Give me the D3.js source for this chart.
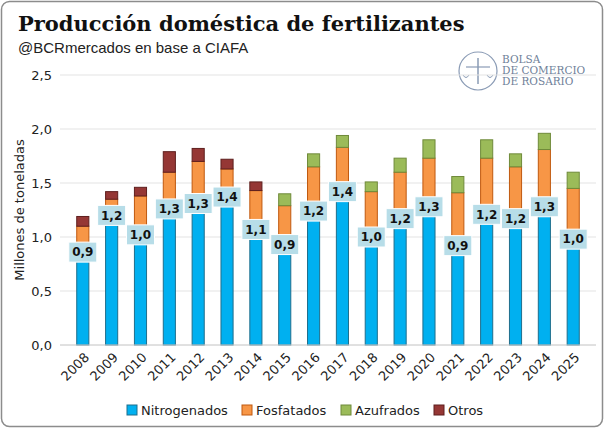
<!DOCTYPE html>
<html><head><meta charset="utf-8">
<script src="https://cdn.jsdelivr.net/npm/d3@7"></script>
<style>body{margin:0;background:#fff}</style>
</head><body>
<script>
const years = ['2008','2009','2010','2011','2012','2013','2014','2015','2016','2017','2018','2019','2020','2021','2022','2023','2024','2025'];
const nitrogenados = [0.86,1.20,1.02,1.26,1.31,1.37,1.07,0.93,1.24,1.42,1.00,1.17,1.28,0.92,1.21,1.17,1.28,0.98];
const fosfatados = [0.24,0.15,0.36,0.34,0.39,0.26,0.36,0.36,0.41,0.41,0.42,0.43,0.45,0.49,0.52,0.48,0.53,0.47];
const azufrados = [0,0,0,0,0,0,0,0.11,0.12,0.11,0.09,0.13,0.17,0.15,0.17,0.12,0.15,0.15];
const otros = [0.09,0.07,0.08,0.19,0.12,0.09,0.08,0,0,0,0,0,0,0,0,0,0,0];
const yTicks = [0,0.5,1,1.5,2,2.5];
const seriesNames = ['Nitrogenados','Fosfatados','Azufrados','Otros'];
const colors = ['#00b0f0','#f79646','#9bbb59','#953735'];
const strokes = ['#1f6e8c','#c0590f','#6f8a3a','#5e1f1e'];

const W = 604, H = 428;
const margin = {top: 75, right: 8, bottom: 83, left: 60};
const fmt = v => d3.format('.1f')(v).replace('.', ',');

const rows = years.map((y, i) => ({year: y, Nitrogenados: nitrogenados[i], Fosfatados: fosfatados[i], Azufrados: azufrados[i], Otros: otros[i]}));
const stack = d3.stack().keys(seriesNames)(rows);

const x = d3.scaleBand().domain(years).range([margin.left, W - margin.right]).padding(0.58);
const y = d3.scaleLinear().domain([0, 2.5]).range([H - margin.bottom, margin.top]);

const svg = d3.select('body').append('svg').attr('width', W).attr('height', H)
    .style('font-family', 'Verdana, "DejaVu Sans", sans-serif');

svg.append('rect').attr('x', 1.5).attr('y', 1.5).attr('width', W - 3).attr('height', H - 3)
    .attr('rx', 8).attr('fill', '#fff').attr('stroke', '#8c8c8c').attr('stroke-width', 1.5);

svg.append('text').attr('x', 18).attr('y', 31).text('Producción doméstica de fertilizantes')
    .style('font-family', '"DejaVu Serif", serif').style('font-weight', 'bold').style('font-size', '21px').attr('fill', '#111');
svg.append('text').attr('x', 18).attr('y', 53).text('@BCRmercados en base a CIAFA')
    .style('font-family', '"Liberation Sans", Arial, sans-serif').style('font-size', '15px').attr('fill', '#222');

// logo
const logo = svg.append('g').attr('transform', 'translate(478,71)');
logo.append('circle').attr('r', 19).attr('fill', '#fff').attr('stroke', '#8a9bb5').attr('stroke-width', 1.2);
logo.append('line').attr('x1', 0).attr('x2', 0).attr('y1', -13).attr('y2', 13).attr('stroke', '#8a9bb5').attr('stroke-width', 1.5);
logo.append('line').attr('x1', -12).attr('x2', 12).attr('y1', -4).attr('y2', -4).attr('stroke', '#8a9bb5').attr('stroke-width', 1.2);
logo.append('path').attr('d', 'M-15,4 Q-12,9 -9,4 M9,4 Q12,9 15,4').attr('fill', 'none').attr('stroke', '#8a9bb5');
['BOLSA', 'DE COMERCIO', 'DE ROSARIO'].forEach((t, i) => {
  logo.append('text').attr('x', 24).attr('y', -8 + i * 11).text(t)
    .style('font-family', '"DejaVu Serif", serif').style('font-size', '10.5px').attr('fill', '#6f7f99');
});

svg.append('g').selectAll('line').data(yTicks).join('line')
    .attr('x1', margin.left).attr('x2', W - margin.right)
    .attr('y1', d => y(d)).attr('y2', d => y(d)).attr('stroke', '#e3e3e3');

svg.append('g').selectAll('text').data(yTicks).join('text')
    .attr('x', margin.left - 8).attr('y', d => y(d)).attr('dy', '0.35em').attr('text-anchor', 'end')
    .style('font-size', '13px').attr('fill', '#222').text(fmt);

svg.append('text').attr('transform', `translate(24,${(y(0) + y(2.5)) / 2}) rotate(-90)`)
    .attr('text-anchor', 'middle').style('font-size', '13px').attr('fill', '#222').text('Millones de toneladas');

stack.forEach((s, k) => {
  svg.append('g').selectAll('rect').data(s.filter(d => d[1] > d[0])).join('rect')
      .attr('x', d => x(d.data.year)).attr('width', x.bandwidth())
      .attr('y', d => y(d[1])).attr('height', d => y(d[0]) - y(d[1]))
      .attr('fill', colors[k]).attr('stroke', strokes[k]).attr('stroke-width', 1);
});

svg.append('line').attr('x1', margin.left).attr('x2', W - margin.right)
    .attr('y1', y(0)).attr('y2', y(0)).attr('stroke', '#d0d0d0');

const lab = svg.append('g').selectAll('g').data(rows).join('g')
    .attr('transform', d => `translate(${x(d.year) + x.bandwidth() / 2},${y(d.Nitrogenados)})`);
lab.append('rect').attr('x', -14).attr('y', -10).attr('width', 28).attr('height', 20)
    .attr('fill', '#b7dde8').attr('stroke', '#fff').attr('stroke-width', 1);
lab.append('text').attr('text-anchor', 'middle').attr('dy', '0.35em')
    .style('font-size', '12px').style('font-weight', 'bold').attr('fill', '#111')
    .text(d => fmt(d.Nitrogenados));

svg.append('g').selectAll('text').data(years).join('text')
    .attr('transform', d => `translate(${x(d) + x.bandwidth() / 2 + 4},${y(0) + 10}) rotate(-45)`)
    .attr('text-anchor', 'end').attr('dy', '0.35em').style('font-size', '13px').attr('fill', '#222').text(d => d);

const legend = svg.append('g').selectAll('g').data(seriesNames).join('g')
    .attr('transform', (d, i) => `translate(${[127, 242, 341, 434][i]},410)`);
legend.append('rect').attr('x', 0).attr('y', -5).attr('width', 10).attr('height', 10)
    .attr('fill', (d, i) => colors[i]).attr('stroke', (d, i) => strokes[i]);
legend.append('text').attr('x', 14).attr('dy', '0.35em').style('font-size', '13px').attr('fill', '#222').text(d => d);
</script>
</body></html>
